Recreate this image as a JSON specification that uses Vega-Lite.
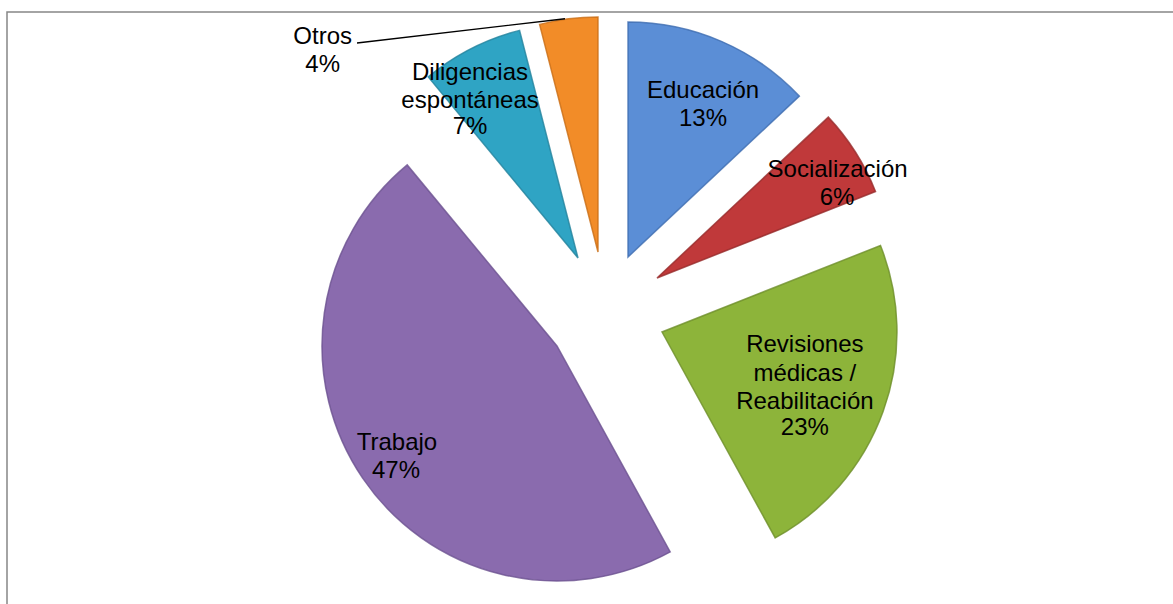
{
  "$schema": "https://vega.github.io/schema/vega-lite/v6.json",
  "width": 1172,
  "height": 600,
  "autosize": "none",
  "padding": {"left": 7, "top": 12, "right": -6, "bottom": -8},
  "background": "white",
  "view": {"stroke": "#868686", "strokeWidth": 1.5},
  "config": {"view": {"stroke": "#868686", "strokeWidth": 1.5}},
  "data": {"values": [
    {"categoria": "Educación", "valor": 0.13, "orden": 1},
    {"categoria": "Socialización", "valor": 0.06, "orden": 2},
    {"categoria": "Revisiones médicas / Reabilitación", "valor": 0.23, "orden": 3},
    {"categoria": "Trabajo", "valor": 0.47, "orden": 4},
    {"categoria": "Diligencias espontáneas", "valor": 0.07, "orden": 5},
    {"categoria": "Otros", "valor": 0.04, "orden": 6}
  ]},
  "layer": [
    {
      "encoding": {
        "theta": {"field": "valor", "type": "quantitative", "stack": true},
        "order": {"field": "orden", "type": "quantitative"},
        "detail": {"field": "categoria", "type": "nominal"},
        "color": {"field": "categoria", "type": "nominal", "legend": null,
          "scale": {"domain": ["Educación", "Socialización", "Revisiones médicas / Reabilitación", "Trabajo", "Diligencias espontáneas", "Otros"],
                    "range": ["#5B8ED6", "#C0393A", "#8DB43A", "#8A6BAE", "#2FA4C4", "#F28C28"]}}
      },
      "layer": [
        {"mark": {"type": "arc", "outerRadius": 235, "xOffset": 35, "yOffset": -55, "strokeWidth": 1.5, "strokeOpacity": 0.8},
         "encoding": {"stroke": {"field": "categoria", "type": "nominal", "legend": null,
            "scale": {"domain": ["Educación", "Socialización", "Revisiones médicas / Reabilitación", "Trabajo", "Diligencias espontáneas", "Otros"],
                      "range": ["#3E6DB0", "#962A2A", "#6E8F2A", "#6B5190", "#23829C", "#C96E17"]}},
           "opacity": {"condition": {"test": "datum.categoria === 'Educación'", "value": 1}, "value": 0}}},
        {"mark": {"type": "arc", "outerRadius": 235, "xOffset": 64, "yOffset": -34, "strokeWidth": 1.5, "strokeOpacity": 0.8},
         "encoding": {"stroke": {"field": "categoria", "type": "nominal", "legend": null,
            "scale": {"domain": ["Educación", "Socialización", "Revisiones médicas / Reabilitación", "Trabajo", "Diligencias espontáneas", "Otros"],
                      "range": ["#3E6DB0", "#962A2A", "#6E8F2A", "#6B5190", "#23829C", "#C96E17"]}},
           "opacity": {"condition": {"test": "datum.categoria === 'Socialización'", "value": 1}, "value": 0}}},
        {"mark": {"type": "arc", "outerRadius": 235, "xOffset": 69, "yOffset": 20, "strokeWidth": 1.5, "strokeOpacity": 0.8},
         "encoding": {"stroke": {"field": "categoria", "type": "nominal", "legend": null,
            "scale": {"domain": ["Educación", "Socialización", "Revisiones médicas / Reabilitación", "Trabajo", "Diligencias espontáneas", "Otros"],
                      "range": ["#3E6DB0", "#962A2A", "#6E8F2A", "#6B5190", "#23829C", "#C96E17"]}},
           "opacity": {"condition": {"test": "datum.categoria === 'Revisiones médicas / Reabilitación'", "value": 1}, "value": 0}}},
        {"mark": {"type": "arc", "outerRadius": 235, "xOffset": -36, "yOffset": 34, "strokeWidth": 1.5, "strokeOpacity": 0.8},
         "encoding": {"stroke": {"field": "categoria", "type": "nominal", "legend": null,
            "scale": {"domain": ["Educación", "Socialización", "Revisiones médicas / Reabilitación", "Trabajo", "Diligencias espontáneas", "Otros"],
                      "range": ["#3E6DB0", "#962A2A", "#6E8F2A", "#6B5190", "#23829C", "#C96E17"]}},
           "opacity": {"condition": {"test": "datum.categoria === 'Trabajo'", "value": 1}, "value": 0}}},
        {"mark": {"type": "arc", "outerRadius": 235, "xOffset": -15, "yOffset": -54, "strokeWidth": 1.5, "strokeOpacity": 0.8},
         "encoding": {"stroke": {"field": "categoria", "type": "nominal", "legend": null,
            "scale": {"domain": ["Educación", "Socialización", "Revisiones médicas / Reabilitación", "Trabajo", "Diligencias espontáneas", "Otros"],
                      "range": ["#3E6DB0", "#962A2A", "#6E8F2A", "#6B5190", "#23829C", "#C96E17"]}},
           "opacity": {"condition": {"test": "datum.categoria === 'Diligencias espontáneas'", "value": 1}, "value": 0}}},
        {"mark": {"type": "arc", "outerRadius": 235, "xOffset": 5, "yOffset": -60, "strokeWidth": 1.5, "strokeOpacity": 0.8},
         "encoding": {"stroke": {"field": "categoria", "type": "nominal", "legend": null,
            "scale": {"domain": ["Educación", "Socialización", "Revisiones médicas / Reabilitación", "Trabajo", "Diligencias espontáneas", "Otros"],
                      "range": ["#3E6DB0", "#962A2A", "#6E8F2A", "#6B5190", "#23829C", "#C96E17"]}},
           "opacity": {"condition": {"test": "datum.categoria === 'Otros'", "value": 1}, "value": 0}}},

        {"mark": {"type": "text", "radius": 169.3, "xOffset": 35, "yOffset": -55, "dx": 7.8, "dy": -10.6, "font": "Liberation Sans", "fontSize": 24, "lineHeight": 28, "align": "center", "baseline": "middle"},
         "encoding": {"text": {"field": "categoria", "type": "nominal"}, "color": {"value": "#000000"},
           "opacity": {"condition": {"test": "datum.categoria === 'Educación'", "value": 1}, "value": 0}}},
        {"mark": {"type": "text", "radius": 169.3, "xOffset": 35, "yOffset": -55, "dx": 7.8, "dy": 17.4, "font": "Liberation Sans", "fontSize": 24, "align": "center", "baseline": "middle"},
         "encoding": {"text": {"field": "valor", "type": "quantitative", "format": ".0%"}, "color": {"value": "#000000"},
           "opacity": {"condition": {"test": "datum.categoria === 'Educación'", "value": 1}, "value": 0}}},

        {"mark": {"type": "text", "radius": 202.3, "xOffset": 64, "yOffset": -34, "dx": 9.8, "dy": 0.4, "font": "Liberation Sans", "fontSize": 24, "lineHeight": 28, "align": "center", "baseline": "middle"},
         "encoding": {"text": {"field": "categoria", "type": "nominal"}, "color": {"value": "#000000"},
           "opacity": {"condition": {"test": "datum.categoria === 'Socialización'", "value": 1}, "value": 0}}},
        {"mark": {"type": "text", "radius": 202.3, "xOffset": 64, "yOffset": -34, "dx": 9.3, "dy": 28.4, "font": "Liberation Sans", "fontSize": 24, "align": "center", "baseline": "middle"},
         "encoding": {"text": {"field": "valor", "type": "quantitative", "format": ".0%"}, "color": {"value": "#000000"},
           "opacity": {"condition": {"test": "datum.categoria === 'Socialización'", "value": 1}, "value": 0}}},

        {"mark": {"type": "text", "radius": 152.9, "xOffset": 69, "yOffset": 20, "dx": -1, "dy": -38.5, "font": "Liberation Sans", "fontSize": 24, "lineHeight": 28.5, "align": "center", "baseline": "middle", "lineBreak": {"expr": "regexp(' (?!/)')"}},
         "encoding": {"text": {"field": "categoria", "type": "nominal"}, "color": {"value": "#000000"},
           "opacity": {"condition": {"test": "datum.categoria === 'Revisiones médicas / Reabilitación'", "value": 1}, "value": 0}}},
        {"mark": {"type": "text", "radius": 152.9, "xOffset": 69, "yOffset": 20, "dx": -1, "dy": 44.2, "font": "Liberation Sans", "fontSize": 24, "align": "center", "baseline": "middle"},
         "encoding": {"text": {"field": "valor", "type": "quantitative", "format": ".0%"}, "color": {"value": "#000000"},
           "opacity": {"condition": {"test": "datum.categoria === 'Revisiones médicas / Reabilitación'", "value": 1}, "value": 0}}},

        {"mark": {"type": "text", "radius": 194.7, "xOffset": -36, "yOffset": 34, "dx": 1, "dy": -12.4, "font": "Liberation Sans", "fontSize": 24, "align": "center", "baseline": "middle"},
         "encoding": {"text": {"field": "categoria", "type": "nominal"}, "color": {"value": "#000000"},
           "opacity": {"condition": {"test": "datum.categoria === 'Trabajo'", "value": 1}, "value": 0}}},
        {"mark": {"type": "text", "radius": 194.7, "xOffset": -36, "yOffset": 34, "dx": 0, "dy": 15.5, "font": "Liberation Sans", "fontSize": 24, "align": "center", "baseline": "middle"},
         "encoding": {"text": {"field": "valor", "type": "quantitative", "format": ".0%"}, "color": {"value": "#000000"},
           "opacity": {"condition": {"test": "datum.categoria === 'Trabajo'", "value": 1}, "value": 0}}},

        {"mark": {"type": "text", "radius": 189.8, "xOffset": -15, "yOffset": -54, "dx": -21.8, "dy": -15.5, "font": "Liberation Sans", "fontSize": 24, "lineHeight": 28, "align": "center", "baseline": "middle", "lineBreak": " "},
         "encoding": {"text": {"field": "categoria", "type": "nominal"}, "color": {"value": "#000000"},
           "opacity": {"condition": {"test": "datum.categoria === 'Diligencias espontáneas'", "value": 1}, "value": 0}}},
        {"mark": {"type": "text", "radius": 189.8, "xOffset": -15, "yOffset": -54, "dx": -21.8, "dy": 37.8, "font": "Liberation Sans", "fontSize": 24, "align": "center", "baseline": "middle"},
         "encoding": {"text": {"field": "valor", "type": "quantitative", "format": ".0%"}, "color": {"value": "#000000"},
           "opacity": {"condition": {"test": "datum.categoria === 'Diligencias espontáneas'", "value": 1}, "value": 0}}},

        {"mark": {"type": "text", "radius": 233.9, "xOffset": 5, "yOffset": -60, "dx": -246, "dy": 16.7, "font": "Liberation Sans", "fontSize": 24, "align": "center", "baseline": "middle"},
         "encoding": {"text": {"field": "categoria", "type": "nominal"}, "color": {"value": "#000000"},
           "opacity": {"condition": {"test": "datum.categoria === 'Otros'", "value": 1}, "value": 0}}},
        {"mark": {"type": "text", "radius": 233.9, "xOffset": 5, "yOffset": -60, "dx": -246, "dy": 45, "font": "Liberation Sans", "fontSize": 24, "align": "center", "baseline": "middle"},
         "encoding": {"text": {"field": "valor", "type": "quantitative", "format": ".0%"}, "color": {"value": "#000000"},
           "opacity": {"condition": {"test": "datum.categoria === 'Otros'", "value": 1}, "value": 0}}}
      ]
    },
    {
      "transform": [{"filter": "datum.categoria === 'Otros'"}],
      "mark": {"type": "arc", "theta": 1.4546, "theta2": 1.4546, "innerRadius": 0, "outerRadius": 209.4, "xOffset": -236, "yOffset": -269, "filled": false, "stroke": "#000000", "strokeWidth": 1.4},
      "encoding": {}
    }
  ]
}
